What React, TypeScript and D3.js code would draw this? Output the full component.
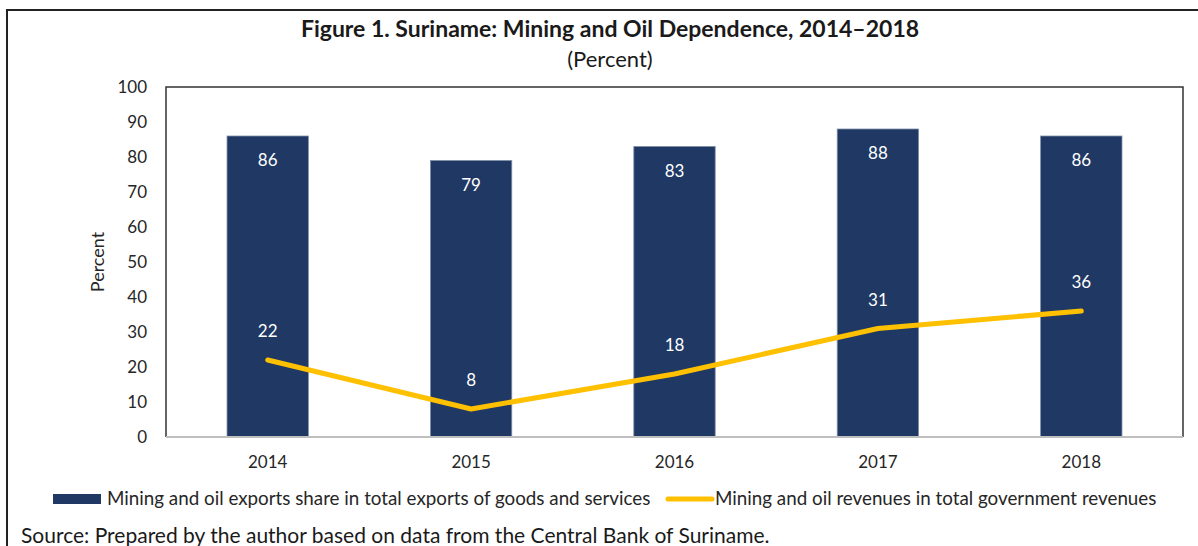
import * as d3 from "d3";
import { useEffect, useRef } from "react";

const years = ["2014", "2015", "2016", "2017", "2018"];
const exportShare = [86, 79, 83, 88, 86];
const revenueShare = [22, 8, 18, 31, 36];
const yTicks = [0, 10, 20, 30, 40, 50, 60, 70, 80, 90, 100];

const barColor = "#203864";
const lineColor = "#ffc000";
const font = "Lato, 'Open Sans', sans-serif";

export default function App(): JSX.Element {
  const svgRef = useRef<SVGSVGElement>(null);

  useEffect(() => {
    if (!svgRef.current) return;
    const width = 1198;
    const height = 546;
    const margin = { top: 87, right: 15, bottom: 109, left: 166 };

    const svg = d3.select(svgRef.current);
    svg.selectAll("*").remove();
    svg.attr("width", width).attr("height", height);

    svg.append("rect").attr("width", width).attr("height", height).attr("fill", "#fff");

    // outer frame
    svg
      .append("path")
      .attr("d", `M7,${height + 5} V10 H${width + 5}`)
      .attr("fill", "none")
      .attr("stroke", "#222")
      .attr("stroke-width", 2);

    const x = d3
      .scaleBand()
      .domain(years)
      .range([margin.left, width - margin.right])
      .paddingInner(0.6)
      .paddingOuter(0.3);

    const y = d3
      .scaleLinear()
      .domain([0, 100])
      .range([height - margin.bottom, margin.top]);

    // title
    svg
      .append("text")
      .attr("x", 610)
      .attr("y", 37)
      .attr("text-anchor", "middle")
      .style("font-family", font)
      .style("font-size", "23px")
      .style("font-weight", "bold")
      .style("fill", "#1a1a1a")
      .text("Figure 1. Suriname: Mining and Oil Dependence, 2014–2018");

    svg
      .append("text")
      .attr("x", 610)
      .attr("y", 67)
      .attr("text-anchor", "middle")
      .style("font-family", font)
      .style("font-size", "22px")
      .style("fill", "#1a1a1a")
      .text("(Percent)");

    // bars
    svg
      .append("g")
      .selectAll("rect")
      .data(years)
      .join("rect")
      .attr("x", (d) => x(d)!)
      .attr("y", (_, i) => y(exportShare[i]))
      .attr("width", x.bandwidth())
      .attr("height", (_, i) => y(0) - y(exportShare[i]))
      .attr("fill", barColor)
      .attr("stroke", "#7f8fa9")
      .attr("stroke-width", 0.8);

    svg
      .append("g")
      .selectAll("text")
      .data(years)
      .join("text")
      .attr("x", (d) => x(d)! + x.bandwidth() / 2)
      .attr("y", (_, i) => y(exportShare[i]) + 30)
      .attr("text-anchor", "middle")
      .style("font-family", font)
      .style("font-size", "17px")
      .style("fill", "#fff")
      .text((_, i) => exportShare[i]);

    // plot frame: left, top, right in dark; bottom axis in grey
    const x0 = margin.left;
    const x1 = width - margin.right;
    svg
      .append("path")
      .attr("d", `M${x0},${y(0)} V${y(100)} H${x1} V${y(0)}`)
      .attr("fill", "none")
      .attr("stroke", "#333")
      .attr("stroke-width", 1.5);

    svg
      .append("line")
      .attr("x1", x0)
      .attr("x2", x1)
      .attr("y1", y(0))
      .attr("y2", y(0))
      .attr("stroke", "#bfbfbf")
      .attr("stroke-width", 2);

    // line series
    const lineGen = d3
      .line<number>()
      .x((_, i) => x(years[i])! + x.bandwidth() / 2)
      .y((d) => y(d));

    svg
      .append("path")
      .datum(revenueShare)
      .attr("d", lineGen)
      .attr("fill", "none")
      .attr("stroke", lineColor)
      .attr("stroke-width", 5)
      .attr("stroke-linecap", "round")
      .attr("stroke-linejoin", "round");

    svg
      .append("g")
      .selectAll("text")
      .data(revenueShare)
      .join("text")
      .attr("x", (_, i) => x(years[i])! + x.bandwidth() / 2)
      .attr("y", (d) => y(d) - 23)
      .attr("text-anchor", "middle")
      .style("font-family", font)
      .style("font-size", "17px")
      .style("fill", "#fff")
      .text((d) => d);

    // y axis
    svg
      .append("g")
      .attr("transform", `translate(${margin.left},0)`)
      .call(d3.axisLeft(y).tickValues(yTicks).tickSize(0).tickPadding(19))
      .call((g) => g.select(".domain").remove())
      .selectAll("text")
      .style("font-family", font)
      .style("font-size", "17px")
      .style("fill", "#262626");

    // x axis
    svg
      .append("g")
      .attr("transform", `translate(0,${y(0)})`)
      .call(d3.axisBottom(x).tickSize(0).tickPadding(19))
      .call((g) => g.select(".domain").remove())
      .selectAll("text")
      .style("font-family", font)
      .style("font-size", "17px")
      .style("fill", "#262626");

    svg
      .append("text")
      .attr("transform", `translate(104,262) rotate(-90)`)
      .attr("text-anchor", "middle")
      .style("font-family", font)
      .style("font-size", "18px")
      .style("fill", "#262626")
      .text("Percent");

    // legend
    const legendY = 499;
    svg
      .append("rect")
      .attr("x", 53)
      .attr("y", legendY - 5)
      .attr("width", 48)
      .attr("height", 10)
      .attr("fill", barColor);
    svg
      .append("text")
      .attr("x", 107)
      .attr("y", legendY + 6)
      .style("font-family", font)
      .style("font-size", "18.8px")
      .style("fill", "#262626")
      .text("Mining and oil exports share in total exports of goods and services");

    svg
      .append("line")
      .attr("x1", 668)
      .attr("x2", 712)
      .attr("y1", legendY)
      .attr("y2", legendY)
      .attr("stroke", lineColor)
      .attr("stroke-width", 5)
      .attr("stroke-linecap", "round");
    svg
      .append("text")
      .attr("x", 715)
      .attr("y", legendY + 6)
      .style("font-family", font)
      .style("font-size", "18.8px")
      .style("fill", "#262626")
      .text("Mining and oil revenues in total government revenues");

    svg
      .append("text")
      .attr("x", 21)
      .attr("y", 543)
      .style("font-family", font)
      .style("font-size", "21px")
      .style("fill", "#1a1a1a")
      .text("Source: Prepared by the author based on data from the Central Bank of Suriname.");
  }, []);

  return (
    <div style={{ position: "absolute", left: 0, top: 0 }}>
      <svg ref={svgRef} style={{ display: "block" }} />
    </div>
  );
}
